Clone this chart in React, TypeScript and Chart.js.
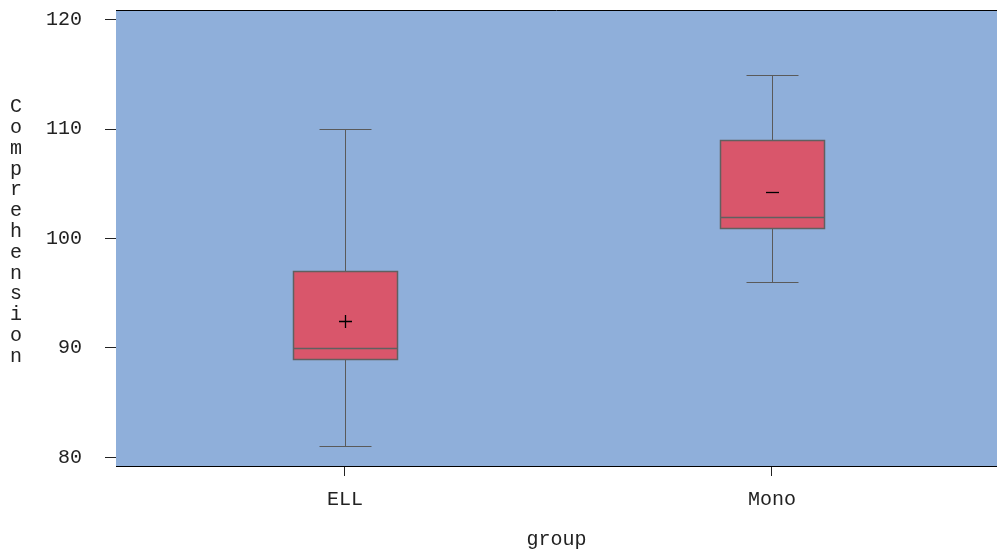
import React, { useEffect, useRef } from "react";
import { Chart, registerables } from "chart.js";

Chart.register(...registerables);

const groups = ["ELL", "Mono"];
const whiskerLow = [81, 96];
const q1 = [89, 101];
const median = [90, 102];
const q3 = [97, 109];
const whiskerHigh = [110, 115];
const means = [92.5, 104.3];
const meanMarkers = ["cross", "line"];
const yTicks = [80, 90, 100, 110, 120];
const yTitle = "Comprehension";
const xTitle = "group";

const FONT = "'Courier New', 'Nimbus Mono PS', 'FreeMono', 'Liberation Mono', monospace";
const FSIZE = 20;
const BOX_HALF = 0.122;
const CAP_HALF = 0.061;

const boxPlugin = {
  id: "boxPlugin",
  beforeDatasetsDraw(chart: any) {
    const { ctx, chartArea, scales } = chart;
    const x = scales.x;
    const y = scales.y;
    ctx.save();
    ctx.fillStyle = "#8FAFDA";
    ctx.fillRect(chartArea.left, chartArea.top, chartArea.right - chartArea.left, chartArea.bottom - chartArea.top);
    groups.forEach((g, i) => {
      const xv = i + 1;
      const cx = Math.round(x.getPixelForValue(xv)) + 0.5;
      const l = Math.round(x.getPixelForValue(xv - BOX_HALF)) + 0.5;
      const r = Math.round(x.getPixelForValue(xv + BOX_HALF)) + 0.5;
      const cl = Math.round(x.getPixelForValue(xv - CAP_HALF)) + 0.5;
      const cr = Math.round(x.getPixelForValue(xv + CAP_HALF)) + 0.5;
      const py = (v: number) => Math.round(y.getPixelForValue(v)) + 0.5;
      ctx.strokeStyle = "#5a5a5a";
      ctx.lineWidth = 1;
      ctx.beginPath();
      ctx.moveTo(cx, py(whiskerHigh[i]));
      ctx.lineTo(cx, py(q3[i]));
      ctx.moveTo(cx, py(q1[i]));
      ctx.lineTo(cx, py(whiskerLow[i]));
      ctx.moveTo(cl, py(whiskerHigh[i]));
      ctx.lineTo(cr, py(whiskerHigh[i]));
      ctx.moveTo(cl, py(whiskerLow[i]));
      ctx.lineTo(cr, py(whiskerLow[i]));
      ctx.stroke();
      ctx.fillStyle = "#D9566B";
      ctx.fillRect(l, py(q3[i]), r - l, py(q1[i]) - py(q3[i]));
      ctx.strokeStyle = "#606060";
      ctx.lineWidth = 1.5;
      ctx.strokeRect(l, py(q3[i]), r - l, py(q1[i]) - py(q3[i]));
      ctx.beginPath();
      ctx.moveTo(l, py(median[i]));
      ctx.lineTo(r, py(median[i]));
      ctx.stroke();
      ctx.strokeStyle = "#000";
      ctx.lineWidth = 1.3;
      const my = py(means[i]);
      ctx.beginPath();
      ctx.moveTo(cx - 6.5, my);
      ctx.lineTo(cx + 6.5, my);
      if (meanMarkers[i] === "cross") {
        ctx.moveTo(cx, my - 6.5);
        ctx.lineTo(cx, my + 6.5);
      }
      ctx.stroke();
    });
    ctx.restore();
  },
  afterDraw(chart: any) {
    const { ctx, chartArea } = chart;
    ctx.save();
    ctx.strokeStyle = "#000";
    ctx.lineWidth = 1;
    ctx.beginPath();
    ctx.moveTo(chartArea.left, chartArea.top + 0.5);
    ctx.lineTo(chartArea.right, chartArea.top + 0.5);
    ctx.stroke();
    ctx.fillStyle = "#222";
    ctx.font = `${FSIZE}px ${FONT}`;
    ctx.textAlign = "center";
    ctx.textBaseline = "middle";
    const letters = yTitle.split("");
    const lh = 20.8;
    const start = chartArea.top + 97;
    letters.forEach((ch, k) => ctx.fillText(ch, 16, start + k * lh));
    ctx.restore();
  },
};

export default function App() {
  const ref = useRef<HTMLCanvasElement>(null);
  useEffect(() => {
    if (!ref.current) return;
    const chart = new Chart(ref.current, {
      type: "scatter",
      data: { datasets: [{ data: [], showLine: false }] },
      options: {
        animation: false,
        responsive: false,
        layout: { padding: { top: 10, left: 0, right: 0, bottom: 0 } },
        plugins: { legend: { display: false }, tooltip: { enabled: false } },
        scales: {
          x: {
            type: "linear",
            min: 0.464,
            max: 2.527,
            afterBuildTicks: (s: any) => {
              s.ticks = groups.map((_, i) => ({ value: i + 1 }));
            },
            afterFit: (s: any) => {
              s.height = 88;
              s.paddingLeft = 0;
              s.paddingRight = 0;
            },
            ticks: {
              callback: (v: any) => groups[Math.round(v) - 1] ?? "",
              color: "#222",
              font: { family: FONT, size: FSIZE },
              padding: 12,
              maxRotation: 0,
              autoSkip: false,
            },
            grid: { drawOnChartArea: false, drawTicks: true, tickLength: 10, color: "#222" },
            border: { display: true, color: "#000", width: 1 },
            title: { display: true, text: xTitle, color: "#222", font: { family: FONT, size: FSIZE }, padding: { top: 2, bottom: 2 } },
          },
          y: {
            type: "linear",
            min: 79.2,
            max: 120.9,
            afterBuildTicks: (s: any) => {
              s.ticks = yTicks.map((v) => ({ value: v }));
            },
            afterFit: (s: any) => {
              s.width = 116;
              s.paddingTop = 0;
              s.paddingBottom = 0;
            },
            ticks: {
              color: "#222",
              font: { family: FONT, size: FSIZE },
              padding: 23,
            },
            grid: { drawOnChartArea: false, drawTicks: true, tickLength: 11, color: "#222" },
            border: { display: true, color: "#000", width: 1 },
          },
        },
      },
      plugins: [boxPlugin],
    } as any);
    return () => chart.destroy();
  }, []);
  return (
    <div style={{ position: "absolute", left: 0, top: 0, width: 997, height: 554, overflow: "hidden", background: "#fff" }}>
      <canvas ref={ref} width={997} height={554} />
    </div>
  );
}
